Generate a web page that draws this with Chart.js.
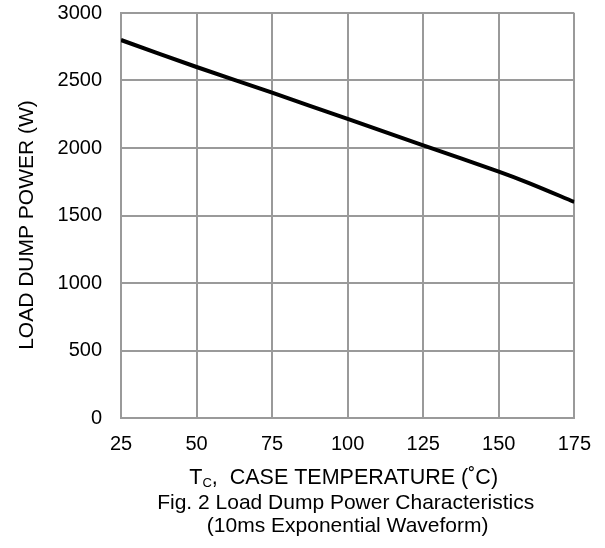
<!DOCTYPE html>
<html>
<head>
<meta charset="utf-8">
<script src="https://cdn.jsdelivr.net/npm/chart.js@4"></script>
<style>
  html, body { margin: 0; padding: 0; background: #fff; }
  #wrap { width: 605px; height: 548px; }
</style>
</head>
<body>
<div id="wrap"><canvas id="powerChart"></canvas></div>
<script>
// --- Data ---
const temps = [25, 50, 75, 100, 125, 150, 160, 175];
const power = [2800, 2600, 2410, 2215, 2020, 1825, 1740, 1600];
const xTicks = [25, 50, 75, 100, 125, 150, 175];
const yTicks = [0, 500, 1000, 1500, 2000, 2500, 3000];

const FONT = "'Liberation Sans', Arial, sans-serif";
const GRID = "#9a9a9a";

// --- Texts (y title, subscript x title, caption) ---
const chartTexts = {
  id: "chartTexts",
  afterDraw(chart) {
    const c = chart.ctx;
    const area = chart.chartArea;
    const cx = (area.left + area.right) / 2 - 2;
    c.save();
    c.fillStyle = "#000";
    c.textBaseline = "middle";

    // y title, rotated
    c.save();
    c.translate(27, 225);
    c.rotate(-Math.PI / 2);
    c.textAlign = "center";
    c.font = "21px " + FONT;
    c.fillText("LOAD DUMP POWER (W)", 0, 0);
    c.restore();

    // x title: T_C,  CASE TEMPERATURE (˚C)
    const big = "21.5px " + FONT;
    const small = "13px " + FONT;
    const rest = ",  CASE TEMPERATURE (\u02DAC)";
    c.font = big;
    const wT = c.measureText("T").width;
    const wRest = c.measureText(rest).width;
    c.font = small;
    const wC = c.measureText("C").width;
    let x = cx - 2 - (wT + wC + wRest) / 2;
    const y = 478;
    c.textAlign = "left";
    c.font = big;
    c.fillText("T", x, y);
    x += wT;
    c.font = small;
    c.fillText("C", x, y + 5);
    x += wC;
    c.font = big;
    c.fillText(rest, x, y);

    // caption
    c.textAlign = "center";
    c.font = "21px " + FONT;
    c.fillText("Fig. 2 Load Dump Power Characteristics", cx, 503);
    c.fillText("(10ms Exponential Waveform)", cx + 2, 526);
    c.restore();
  },
};

// --- Chart ---
const ctx = document.getElementById("powerChart").getContext("2d");
const powerChart = new Chart(ctx, {
  type: "line",
  data: {
    datasets: [
      {
        data: temps.map((t, i) => ({ x: t, y: power[i] })),
        borderColor: "#000",
        borderWidth: 4,
        pointRadius: 0,
        tension: 0.3,
        fill: false,
      },
    ],
  },
  options: {
    responsive: true,
    maintainAspectRatio: false,
    animation: false,
    layout: { padding: { top: 13, right: 29, bottom: 0, left: 0 } },
    plugins: {
      legend: { display: false },
      tooltip: { enabled: false },
    },
    scales: {
      x: {
        type: "linear",
        min: 25,
        max: 175,
        afterFit: (s) => { s.height = 130; },
        afterBuildTicks: (s) => { s.ticks = xTicks.map((v) => ({ value: v })); },
        grid: { color: GRID, lineWidth: 2, drawTicks: false },
        border: { color: GRID, width: 2 },
        ticks: { color: "#000", padding: 14, font: { family: FONT, size: 20 }, callback: (v) => String(v) },
      },
      y: {
        min: 0,
        max: 3000,
        afterFit: (s) => { s.width = 121; },
        afterBuildTicks: (s) => { s.ticks = yTicks.map((v) => ({ value: v })); },
        // invisible tick marks keep the labels off the axis without the
        // tick padding pushing the plot area down
        grid: { color: GRID, lineWidth: 2, drawTicks: true, tickLength: 18, tickColor: "rgba(0,0,0,0)" },
        border: { color: GRID, width: 2 },
        ticks: { color: "#000", padding: 1, font: { family: FONT, size: 20 }, callback: (v) => String(v) },
      },
    },
  },
  plugins: [chartTexts],
});
</script>
</body>
</html>
